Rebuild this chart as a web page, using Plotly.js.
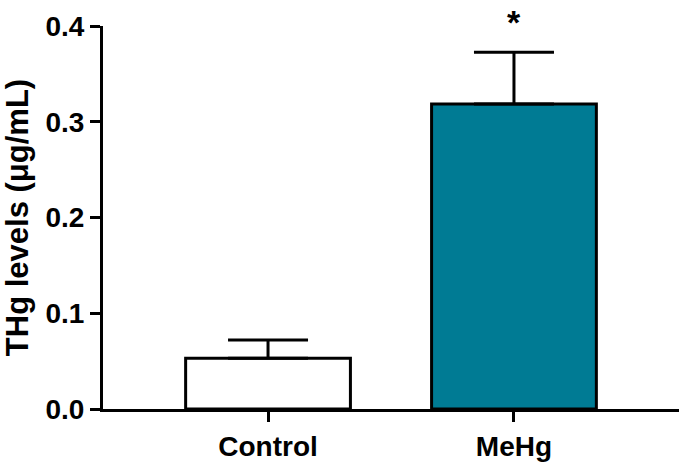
<!DOCTYPE html>
<html>
<head>
<meta charset="utf-8">
<script src="https://cdn.plot.ly/plotly-3.0.1.min.js"></script>
<style>
  html, body { margin: 0; padding: 0; background: #fff; }
  #chart { width: 688px; height: 466px; }
</style>
</head>
<body>
<div id="chart"></div>
<script>
// valeurs
const groups = ['Control', 'MeHg'];
const means = [0.053, 0.3185];
const sem = [0.019, 0.054];
const barColors = ['#ffffff', '#007b94'];
const marks = ['', '*'];

const FONT = 'Liberation Sans, Arial, sans-serif';

const trace = {
    x: [0, 1], y: means, type: 'bar', width: 0.67,
    marker: { color: barColors, line: { color: '#000', width: 3 } },
    error_y: { type: 'data', symmetric: false, array: sem, arrayminus: [0, 0],
               color: '#000', thickness: 3, width: 40 },
    hoverinfo: 'none'
};

// astérisque de significativité au-dessus de la barre
const annotations = marks.map((m, i) => ({
    x: i, y: means[i] + sem[i], xref: 'x', yref: 'y', text: m, showarrow: false,
    yanchor: 'bottom', yshift: 9, font: { family: FONT, size: 34, color: '#000', weight: 'bold' }
})).filter(a => a.text);

const layout = {
    width: 688, height: 466,
    margin: { l: 103, r: 9, t: 26, b: 57 },
    paper_bgcolor: '#fff', plot_bgcolor: '#fff',
    showlegend: false,
    font: { family: FONT, color: '#000' },
    xaxis: {
        range: [-0.671, 1.671], tickvals: [0, 1], ticktext: groups,
        showline: true, linecolor: '#000', linewidth: 3, showgrid: false, zeroline: false,
        ticks: 'outside', ticklen: 10, tickwidth: 3, tickcolor: '#000',
        tickfont: { family: FONT, size: 28, weight: 'bold' }
    },
    yaxis: {
        range: [0, 0.4], tickvals: [0, 0.1, 0.2, 0.3, 0.4], tickformat: '.1f',
        showline: true, linecolor: '#000', linewidth: 3, showgrid: false, zeroline: false,
        ticks: 'outside', ticklen: 10, tickwidth: 3, tickcolor: '#000',
        tickfont: { family: FONT, size: 28, weight: 'bold' },
        title: { text: 'THg levels (μg/mL)', standoff: 12,
                 font: { family: FONT, size: 31, weight: 'bold' } }
    },
    annotations: annotations
};

Plotly.newPlot('chart', [trace], layout, { staticPlot: true });
</script>
</body>
</html>
